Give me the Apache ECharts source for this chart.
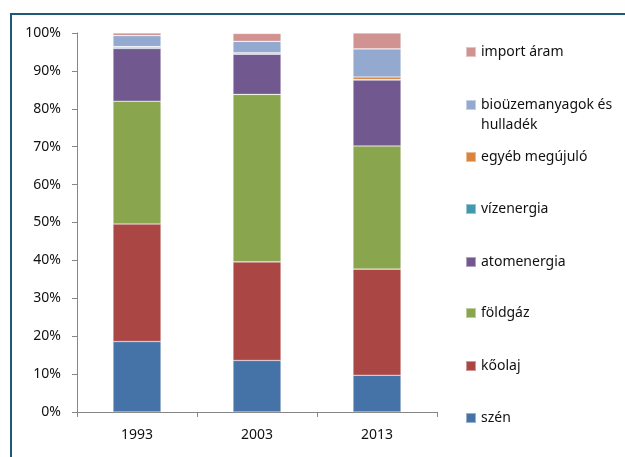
<!DOCTYPE html>
<html>
<head>
<meta charset="utf-8">
<script src="https://cdn.jsdelivr.net/npm/echarts@6/dist/echarts.min.js"></script>
<style>
	html, body { margin: 0; padding: 0; background: #fff; }
	#chart { width: 625px; height: 457px; }
</style>
</head>
<body>
<div id="chart"></div>
<script>
// évek
const years = [ '1993', '2003', '2013' ];
// energiahordozók (alulról felfelé)
const names = [ 'szén', 'kőolaj', 'földgáz', 'atomenergia', 'vízenergia', 'egyéb megújuló', 'bioüzemanyagok és\nhulladék', 'import áram' ];
const colors = [ '#4572a7', '#aa4643', '#89a54e', '#71588f', '#4198af', '#db843d', '#93a9cf', '#d19392' ];
// részesedés, %
const szen = [ 18.6, 13.6, 9.7 ];
const koolaj = [ 31.0, 26.0, 28.0 ];
const foldgaz = [ 32.4, 44.2, 32.5 ];
const atom = [ 13.9, 10.6, 17.4 ];
const viz = [ 0.2, 0.1, 0.1 ];
const egyeb = [ 0.3, 0.3, 0.7 ];
const bio = [ 2.9, 3.0, 7.4 ];
const importAram = [ 0.7, 2.1, 4.2 ];
const values = [ szen, koolaj, foldgaz, atom, viz, egyeb, bio, importAram ];
const yTicks = [ 0, 10, 20, 30, 40, 50, 60, 70, 80, 90, 100 ];

const chart = echarts.init( document.getElementById( 'chart' ) );

const font = 'Noto Sans';
const lineH = 20;
// jelmagyarázat: felül az import áram, alul a szén (ikonok középvonala)
const legendTops = [ 418, 366, 313, 262, 209, 157, 105, 52 ];
const legends = names.map( ( name, i ) => {
	const multi = name.indexOf( '\n' ) >= 0;
	return {
		data: [ name ],
		left: 465,
		// a kétsoros tételnél egy üres sor kerül elé, így az ikon az első sorhoz igazodik
		top: legendTops[i] - ( multi ? lineH * 1.5 : lineH / 2 ),
		padding: 0,
		itemWidth: 10,
		itemHeight: 10,
		itemGap: 0,
		icon: 'rect',
		selectedMode: false,
		textStyle: {
			fontFamily: font,
			fontSize: 14,
			color: '#111',
			lineHeight: lineH
		},
		formatter: n => n.indexOf( '\n' ) >= 0 ? ' \n' + n : n
	};
} );

const series = names.map( ( name, i ) => ( {
	name,
	type: 'bar',
	stack: 'total',
	barWidth: 48,
	data: values[i],
	itemStyle: {
		color: colors[i],
		borderColor: 'rgba(255,255,255,0.45)',
		borderWidth: 0.6
	}
} ) );

chart.setOption( {
	animation: false,
	backgroundColor: '#fff',
	grid: { left: 77, right: 188, top: 33, bottom: 45 },
	legend: legends,
	xAxis: {
		type: 'category',
		data: years,
		axisLine: { lineStyle: { color: '#868686', width: 1 } },
		axisTick: { show: true, length: 5, lineStyle: { color: '#868686' } },
		axisLabel: { fontFamily: font, fontSize: 14, color: '#111', margin: 16 }
	},
	yAxis: {
		type: 'value',
		min: yTicks[0],
		max: yTicks[yTicks.length - 1],
		interval: 10,
		axisLine: { show: true, lineStyle: { color: '#868686', width: 1 } },
		axisTick: { show: true, length: 5, lineStyle: { color: '#868686' } },
		splitLine: { show: false },
		axisLabel: { fontFamily: font, fontSize: 14, color: '#111', margin: 16, formatter: '{value}%' }
	},
	graphic: [ {
		type: 'rect',
		silent: true,
		shape: { x: 11, y: 14, width: 800, height: 600 },
		style: { fill: 'none', stroke: '#1d5a7a', lineWidth: 2 }
	} ],
	series
} );
</script>
</body>
</html>
